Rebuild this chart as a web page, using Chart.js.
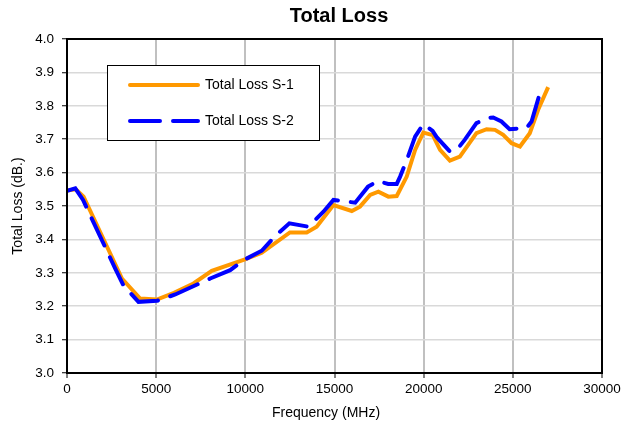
<!DOCTYPE html>
<html>
<head>
<meta charset="utf-8">
<script src="https://cdn.jsdelivr.net/npm/chart.js@4.4.1/dist/chart.umd.min.js"></script>
<style>
  html, body { margin: 0; padding: 0; background: #fff; }
</style>
</head>
<body>
<canvas id="myChart" width="621" height="427"></canvas>
<script>
// Total Loss S-1 (frequency in MHz, loss in dB)
const freqS1 = [0, 500, 930, 3080, 4100, 5040, 6000, 7090, 8120, 9980, 10920, 12500, 13440, 14000, 14940,
    15970, 16430, 17000, 17460, 18020, 18490, 19050, 19520, 19980, 20510, 20920, 21470, 22030, 22960,
    23530, 24000, 24460, 24930, 25400, 25950, 26420, 26980];
const lossS1 = [3.546, 3.55, 3.528, 3.283, 3.223, 3.22, 3.24, 3.268, 3.306, 3.34, 3.36, 3.421, 3.421, 3.438, 3.503,
    3.485, 3.498, 3.533, 3.543, 3.528, 3.53, 3.588, 3.668, 3.72, 3.712, 3.668, 3.636, 3.648, 3.718,
    3.73, 3.728, 3.713, 3.688, 3.678, 3.718, 3.788, 3.856];

// Total Loss S-2
const freqS2 = [0, 465, 900, 2700, 3160, 4010, 5040, 6070, 8030, 9150, 9980, 10920, 11670, 12470, 13540,
    14380, 14940, 16160, 16880, 17440, 18010, 18490, 18680, 19090, 19520, 19980, 20500, 20730, 21470,
    21930, 22300, 22960, 23530, 23900, 24360, 24820, 25760, 26050, 26520];
const lossS2 = [3.545, 3.553, 3.518, 3.313, 3.263, 3.213, 3.216, 3.235, 3.283, 3.308, 3.34, 3.366, 3.41, 3.448, 3.438,
    3.483, 3.518, 3.51, 3.558, 3.575, 3.566, 3.566, 3.588, 3.643, 3.708, 3.745, 3.725, 3.706, 3.663,
    3.673, 3.698, 3.748, 3.763, 3.765, 3.753, 3.73, 3.733, 3.753, 3.838];

const seriesNames = ['Total Loss S-1', 'Total Loss S-2'];
const chartTitle = 'Total Loss';
const xTitle = 'Frequency (MHz)';

const FONT = '"Liberation Sans", Arial, sans-serif';

const toPoints = (xs, ys) => xs.map((x, i) => ({ x: x, y: ys[i] }));

// titles, box round the plot, legend inside the plot area
const framePlugin = {
    id: 'frame',
    afterDraw(chart) {
        const c = chart.ctx;
        const a = chart.chartArea;
        c.save();
        c.strokeStyle = '#000';
        c.lineWidth = 2;
        c.strokeRect(a.left, a.top, a.right - a.left, a.bottom - a.top);

        c.fillStyle = '#000';
        c.textAlign = 'center';
        c.textBaseline = 'middle';
        c.font = 'bold 20px ' + FONT;
        c.fillText(chartTitle, 339, 16);
        c.font = '14px ' + FONT;
        c.fillText(xTitle, 326, 413);
        c.textAlign = 'left';

        // legend
        const lx = a.left + 40, ly = a.top + 26, lw = 212, lh = 75;
        c.fillStyle = '#fff';
        c.fillRect(lx, ly, lw, lh);
        c.lineWidth = 1;
        c.strokeStyle = '#000';
        c.strokeRect(lx + 0.5, ly + 0.5, lw, lh);
        chart.data.datasets.forEach((ds, i) => {
            const y = ly + 20 + i * 36;
            c.beginPath();
            c.strokeStyle = ds.borderColor;
            c.lineWidth = ds.borderWidth;
            c.lineCap = 'round';
            c.setLineDash(ds.borderDash || []);
            c.moveTo(lx + 23, y);
            c.lineTo(lx + 91, y);
            c.stroke();
            c.setLineDash([]);
            c.fillStyle = '#000';
            c.font = '14px ' + FONT;
            c.textBaseline = 'middle';
            c.fillText(ds.label, lx + 98, y);
        });
        c.restore();
    }
};

const ctx = document.getElementById('myChart').getContext('2d');

const myChart = new Chart(ctx, {
    type: 'scatter',
    data: {
        datasets: [{
            label: seriesNames[0],
            data: toPoints(freqS1, lossS1),
            showLine: true,
            borderColor: '#ff9900',
            borderWidth: 4,
            pointRadius: 0,
            tension: 0,
            order: 2
        }, {
            label: seriesNames[1],
            data: toPoints(freqS2, lossS2),
            showLine: true,
            borderColor: '#0000ff',
            borderWidth: 4,
            borderDash: [30, 13],
            borderCapStyle: 'round',
            pointRadius: 0,
            tension: 0,
            order: 1
        }]
    },
    options: {
        responsive: false,
        animation: false,
        devicePixelRatio: 1,
        layout: { padding: { left: 0, right: 0, top: 39, bottom: 0 } },
        plugins: {
            legend: { display: false },
            tooltip: { enabled: false },
            title: { display: false }
        },
        scales: {
            x: {
                type: 'linear',
                min: 0,
                max: 30000,
                afterFit(scale) {
                    scale.height = 54;
                    scale.paddingLeft = 0;
                    scale.paddingRight = 19;
                },
                ticks: {
                    stepSize: 5000,
                    color: '#000',
                    padding: 3,
                    maxRotation: 0,
                    font: { family: FONT, size: 13.5 },
                    callback: v => String(v)
                },
                grid: { color: '#c0c0c0', lineWidth: 2, tickColor: '#000', tickLength: 5, tickWidth: 1 },
                border: { color: '#000', width: 2 }
            },
            y: {
                min: 3.0,
                max: 4.0,
                afterFit(scale) {
                    scale.width = 67;
                    scale.paddingTop = 0;
                    scale.paddingBottom = 0;
                },
                ticks: {
                    stepSize: 0.1,
                    color: '#000',
                    padding: 8,
                    font: { family: FONT, size: 13.5 },
                    callback: v => v.toFixed(1)
                },
                grid: { color: '#d9d9d9', lineWidth: 1.5, tickColor: '#000', tickLength: 5, tickWidth: 1 },
                border: { color: '#000', width: 2 },
                title: {
                    display: true,
                    text: 'Total Loss (dB.)',
                    color: '#000',
                    font: { family: FONT, size: 14 },
                    padding: { top: 9.5, bottom: 0 }
                }
            }
        }
    },
    plugins: [framePlugin]
});
</script>
</body>
</html>
